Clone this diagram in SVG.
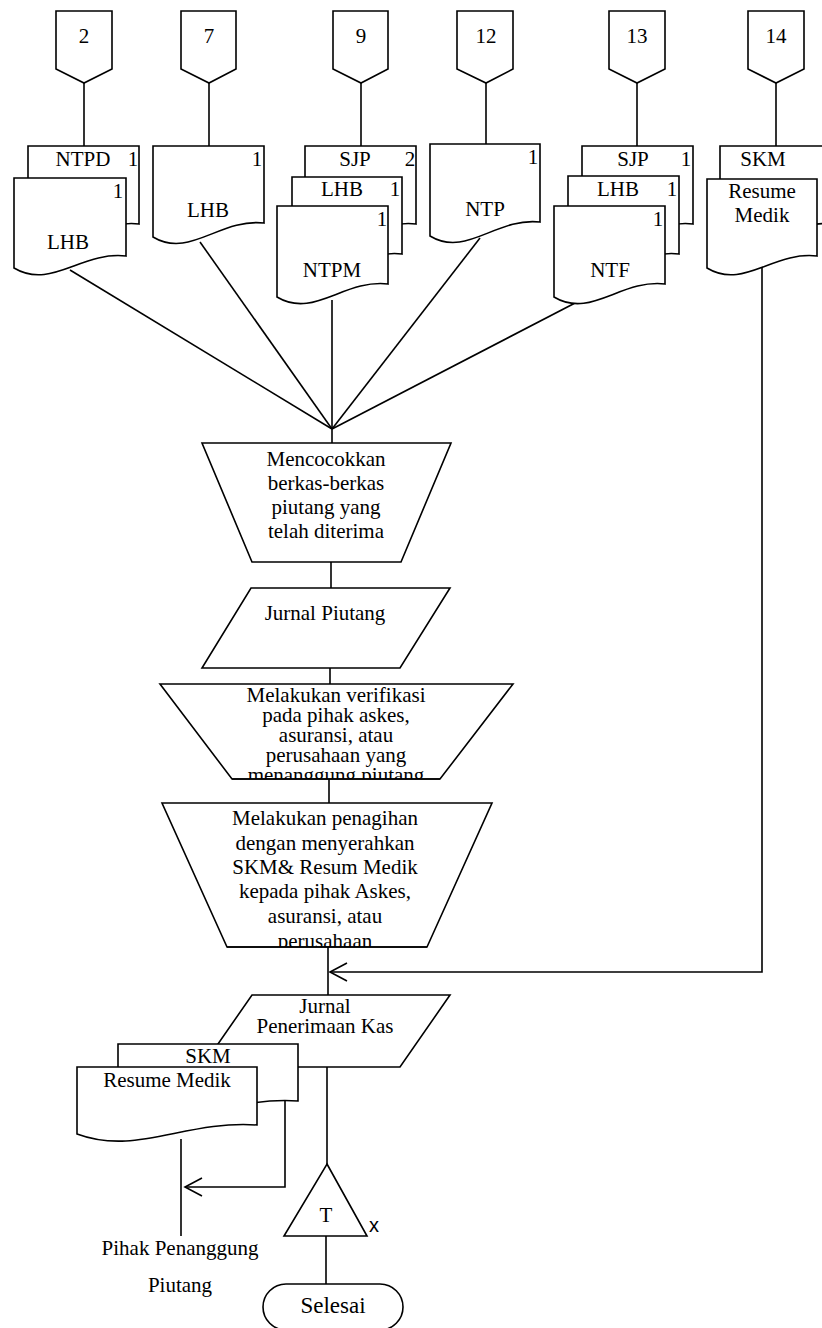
<svg xmlns="http://www.w3.org/2000/svg" width="822" height="1328" viewBox="0 0 822 1328">
  <style>
    .shape { fill: #fff; stroke: #000; stroke-width: 1.6; stroke-linejoin: miter; }
    .line { fill: none; stroke: #000; stroke-width: 1.6; }
    .t { font-family: "Liberation Serif", "Times New Roman", serif; font-size: 21px; fill: #000; text-anchor: middle; }
    .s { font-family: "Liberation Sans", Arial, sans-serif; font-size: 20px; fill: #000; }
  </style>
  <defs>
    <clipPath id="clipVerif"><polygon points="160,684 513,684 440,779 232,779"/></clipPath>
    <clipPath id="clipTagih"><polygon points="162,803 492,803 427,947 227,947"/></clipPath>
  </defs>

  <rect width="822" height="1328" fill="#fff"/>

  <!-- connectors -->
  <g id="connectors">
    <!-- off-page connectors down to documents -->
    <line class="line" x1="84" y1="83" x2="84" y2="146"/>
    <line class="line" x1="209" y1="83" x2="209" y2="146"/>
    <line class="line" x1="361" y1="83" x2="361" y2="146"/>
    <line class="line" x1="486" y1="83" x2="486" y2="144"/>
    <line class="line" x1="637" y1="83" x2="637" y2="146"/>
    <line class="line" x1="776" y1="83" x2="776" y2="146"/>
    <!-- documents converge on the matching process -->
    <line class="line" x1="70" y1="270" x2="332" y2="429"/>
    <line class="line" x1="200" y1="242" x2="332" y2="429"/>
    <line class="line" x1="332" y1="300" x2="332" y2="443"/>
    <line class="line" x1="480" y1="238" x2="332" y2="429"/>
    <line class="line" x1="577" y1="302" x2="332" y2="429"/>
    <!-- main flow -->
    <line class="line" x1="331" y1="562" x2="331" y2="588"/>
    <line class="line" x1="330" y1="668" x2="330" y2="684"/>
    <line class="line" x1="329" y1="779" x2="329" y2="803"/>
    <line class="line" x1="328" y1="947" x2="328" y2="995"/>
    <line class="line" x1="327" y1="1067" x2="327" y2="1164"/>
    <line class="line" x1="326" y1="1236" x2="326" y2="1284"/>
    <!-- SKM / Resume Medik from connector 14 -->
    <polyline class="line" points="762,268 762,972 330,972"/>
    <polyline class="line" points="347,963 330,972 347,981"/>
    <!-- documents handed to the liable party -->
    <polyline class="line" points="285,1101 285,1187 185,1187"/>
    <polyline class="line" points="202,1178 185,1187 202,1196"/>
    <line class="line" x1="181" y1="1139" x2="181" y2="1236"/>
  </g>

  <!-- off-page connectors -->
  <g id="conn-2">
    <path class="shape" d="M56,11 H112 V69 L84,83 L56,69 Z"/>
    <text class="t" x="84" y="43">2</text>
  </g>
  <g id="conn-7">
    <path class="shape" d="M181,11 H236 V69 L209,83 L181,69 Z"/>
    <text class="t" x="209" y="43">7</text>
  </g>
  <g id="conn-9">
    <path class="shape" d="M333,11 H388 V69 L361,83 L333,69 Z"/>
    <text class="t" x="361" y="43">9</text>
  </g>
  <g id="conn-12">
    <path class="shape" d="M457,11 H513 V69 L486,83 L457,69 Z"/>
    <text class="t" x="486" y="43">12</text>
  </g>
  <g id="conn-13">
    <path class="shape" d="M609,11 H665 V69 L637,83 L609,69 Z"/>
    <text class="t" x="637" y="43">13</text>
  </g>
  <g id="conn-14">
    <path class="shape" d="M748,11 H804 V69 L776,83 L748,69 Z"/>
    <text class="t" x="776" y="43">14</text>
  </g>

  <!-- document set: NTPD + LHB -->
  <g id="doc-ntpd-lhb">
    <path class="shape" d="M28,146 H139 V224 C94.6,219 64.6,259 28,237 Z"/>
    <text class="t" x="83" y="166">NTPD</text>
    <text class="t" x="133" y="166">1</text>
    <path class="shape" d="M14,178 H126 V256 C81.2,251 51,290 14,268 Z"/>
    <text class="t" x="118" y="198">1</text>
    <text class="t" x="68" y="249">LHB</text>
  </g>

  <!-- document: LHB -->
  <g id="doc-lhb">
    <path class="shape" d="M153,146 H264 V223 C219.6,218 189.6,259 153,237 Z"/>
    <text class="t" x="257" y="166">1</text>
    <text class="t" x="208" y="217">LHB</text>
  </g>

  <!-- document set: SJP + LHB + NTPM -->
  <g id="doc-sjp-lhb-ntpm">
    <path class="shape" d="M305,146 H416 V224 C371.6,219 341.6,259 305,237 Z"/>
    <text class="t" x="355" y="166">SJP</text>
    <text class="t" x="410" y="166">2</text>
    <path class="shape" d="M292,177 H402 V254 C358,249 328.3,289 292,267 Z"/>
    <text class="t" x="342" y="196">LHB</text>
    <text class="t" x="395" y="196">1</text>
    <path class="shape" d="M277,206 H388 V284 C343.6,279 313.6,319 277,297 Z"/>
    <text class="t" x="382" y="226">1</text>
    <text class="t" x="332" y="277">NTPM</text>
  </g>

  <!-- document: NTP -->
  <g id="doc-ntp">
    <path class="shape" d="M430,144 H540 V222 C496,217 466.3,258 430,236 Z"/>
    <text class="t" x="533" y="164">1</text>
    <text class="t" x="485" y="216">NTP</text>
  </g>

  <!-- document set: SJP + LHB + NTF -->
  <g id="doc-sjp-lhb-ntf">
    <path class="shape" d="M582,146 H693 V224 C648.6,219 618.6,259 582,237 Z"/>
    <text class="t" x="633" y="166">SJP</text>
    <text class="t" x="686" y="166">1</text>
    <path class="shape" d="M568,176 H679 V254 C634.6,249 604.6,289 568,267 Z"/>
    <text class="t" x="618" y="196">LHB</text>
    <text class="t" x="672" y="196">1</text>
    <path class="shape" d="M554,206 H665 V284 C620.6,279 590.6,319 554,297 Z"/>
    <text class="t" x="658" y="226">1</text>
    <text class="t" x="610" y="277">NTF</text>
  </g>

  <!-- document set: SKM + Resume Medik -->
  <g id="doc-skm-resume">
    <path class="shape" d="M720,146 H831 V224 C786.6,219 756.6,259 720,237 Z"/>
    <text class="t" x="763" y="166">SKM</text>
    <path class="shape" d="M707,179 H817 V256 C773,251 743.3,290 707,268 Z"/>
    <text class="t" x="762" y="198">Resume</text>
    <text class="t" x="762" y="222">Medik</text>
  </g>

  <!-- manual operation: matching -->
  <g id="proc-cocok">
    <polygon class="shape" points="202,443 451,443 401,562 252,562"/>
    <text class="t" x="326" y="466">Mencocokkan</text>
    <text class="t" x="326" y="490">berkas-berkas</text>
    <text class="t" x="326" y="514">piutang yang</text>
    <text class="t" x="326" y="538">telah diterima</text>
  </g>

  <!-- journal -->
  <g id="io-jurnal-piutang">
    <polygon class="shape" points="251,588 450,588 400,668 202,668"/>
    <text class="t" x="325" y="620">Jurnal Piutang</text>
  </g>

  <!-- manual operation: verification -->
  <g id="proc-verifikasi">
    <polygon class="shape" points="160,684 513,684 440,779 232,779"/>
    <g clip-path="url(#clipVerif)">
      <text class="t" x="336" y="702">Melakukan verifikasi</text>
      <text class="t" x="336" y="722">pada pihak askes,</text>
      <text class="t" x="336" y="742">asuransi, atau</text>
      <text class="t" x="336" y="762">perusahaan yang</text>
      <text class="t" x="336" y="782">menanggung piutang</text>
    </g>
    <line class="line" x1="232" y1="779" x2="440" y2="779"/>
  </g>

  <!-- manual operation: billing -->
  <g id="proc-penagihan">
    <polygon class="shape" points="162,803 492,803 427,947 227,947"/>
    <g clip-path="url(#clipTagih)">
      <text class="t" x="325" y="825">Melakukan penagihan</text>
      <text class="t" x="325" y="850">dengan menyerahkan</text>
      <text class="t" x="325" y="874">SKM&amp; Resum Medik</text>
      <text class="t" x="325" y="898">kepada pihak Askes,</text>
      <text class="t" x="325" y="923">asuransi, atau</text>
      <text class="t" x="325" y="948">perusahaan</text>
    </g>
    <line class="line" x1="227" y1="947" x2="427" y2="947"/>
  </g>

  <!-- journal: cash receipts -->
  <g id="io-jurnal-kas">
    <polygon class="shape" points="252,995 450,995 400,1067 202,1067"/>
    <text class="t" x="325" y="1013">Jurnal</text>
    <text class="t" x="325" y="1033">Penerimaan Kas</text>
  </g>

  <!-- documents: SKM + Resume Medik -->
  <g id="doc-skm-resume-out">
    <path class="shape" d="M118,1044 H298 V1101 C226,1096 177.4,1134 118,1112 Z"/>
    <text class="t" x="208" y="1063">SKM</text>
    <path class="shape" d="M77,1067 H257 V1125 C185,1120 136.4,1156 77,1134 Z"/>
    <text class="t" x="167" y="1087">Resume Medik</text>
  </g>

  <!-- recipient label -->
  <g id="label-penanggung">
    <text class="t" x="180" y="1255">Pihak Penanggung</text>
    <text class="t" x="180" y="1292">Piutang</text>
  </g>

  <!-- file -->
  <g id="file-t">
    <polygon class="shape" points="327,1164 367,1236 284,1236"/>
    <text class="t" x="326" y="1222">T</text>
    <text class="s" x="369" y="1232">x</text>
  </g>

  <!-- terminator -->
  <g id="end-selesai">
    <rect class="shape" x="263" y="1284" width="140" height="46" rx="23" ry="23"/>
    <text class="t" x="333" y="1313" style="font-size:23px">Selesai</text>
  </g>
</svg>
